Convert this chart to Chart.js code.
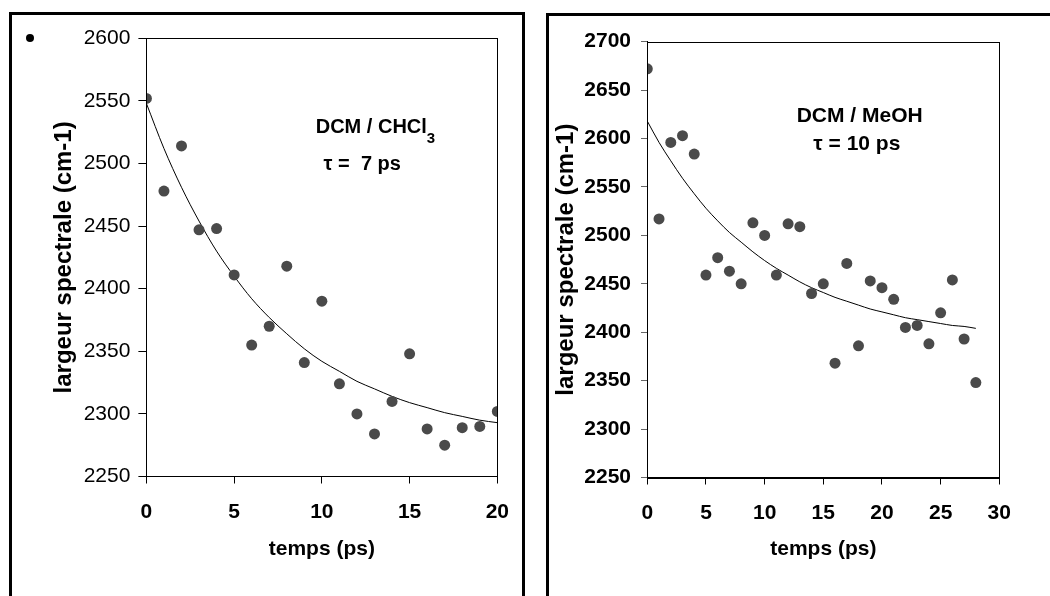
<!DOCTYPE html>
<html>
<head>
<meta charset="utf-8">
<script src="https://cdn.jsdelivr.net/npm/chart.js@4.4.1/dist/chart.umd.min.js"></script>
<style>
  body { margin: 0; width: 1050px; height: 596px; background: #fff; overflow: hidden; position: relative; }
  canvas { position: absolute; top: 0; }
  .frame { position: absolute; box-sizing: border-box; border: 3px solid #000; }
  .dot { position: absolute; width: 8px; height: 8px; border-radius: 50%; background: #000; }
</style>
</head>
<body>
<div class="frame" style="left:9px;top:12px;width:516px;height:620px;"></div>
<div class="frame" style="left:546px;top:13px;width:560px;height:620px;"></div>
<div class="dot" style="left:26px;top:34px;"></div>
<canvas id="leftChart" width="525" height="596" style="left:0"></canvas>
<canvas id="rightChart" width="520" height="596" style="left:530px"></canvas>
<script>
// DCM / CHCl3 : measured points and fitted curve (tau = 7 ps)
var leftTimes = [0, 1, 2, 3, 4, 5, 6, 7, 8, 9, 10, 11, 12, 13, 14, 15, 16, 17, 18, 19, 20];
var leftWidths = [2552, 2478, 2514, 2447, 2448, 2411, 2355, 2370, 2418, 2341, 2390,
                  2324, 2300, 2284, 2310, 2348, 2288, 2275, 2289, 2290, 2302];
var leftFit = [2548, 2512, 2481, 2454, 2430, 2410, 2392, 2377, 2364, 2352, 2342,
               2334, 2326, 2320, 2314, 2309, 2305, 2301, 2298, 2295, 2293];

// DCM / MeOH : measured points and fitted curve (tau = 10 ps)
var rightTimes = [0, 1, 2, 3, 4, 5, 6, 7, 8, 9, 10, 11, 12, 13, 14, 15, 16, 17, 18, 19,
                  20, 21, 22, 23, 24, 25, 26, 27, 28];
var rightWidths = [2672, 2517, 2596, 2603, 2584, 2459, 2477, 2463, 2450, 2513, 2500,
                   2459, 2512, 2509, 2440, 2450, 2368, 2471, 2386, 2453, 2446, 2434,
                   2405, 2407, 2388, 2420, 2454, 2393, 2348];
var rightFit = [2618, 2596, 2577, 2559, 2543, 2528, 2515, 2503, 2493, 2483, 2474,
                2466, 2459, 2452, 2446, 2441, 2436, 2432, 2428, 2424, 2421, 2418,
                2415, 2413, 2411, 2409, 2407, 2406, 2404];

var xTitle = 'temps (ps)';
var yTitle = 'largeur spectrale (cm-1)';

function pairs(xs, ys) {
  return xs.map(function (x, i) { return { x: x, y: ys[i] }; });
}

// frame around the plot area + the two text lines inside it
var plotBox = {
  id: 'plotBox',
  afterDraw: function (chart, args, opts) {
    var a = chart.chartArea, ctx = chart.ctx;
    var sx = chart.scales.x, sy = chart.scales.y;
    ctx.save();
    ctx.strokeStyle = '#000';
    ctx.lineWidth = 1;
    ctx.strokeRect(Math.round(a.left) + 0.5, Math.round(a.top) + 0.5,
                   Math.round(a.right - a.left), Math.round(a.bottom - a.top));
    ctx.fillStyle = '#000';
    ctx.textBaseline = 'alphabetic';
    ctx.textAlign = 'left';
    opts.lines.forEach(function (l) {
      var x = sx.getPixelForValue(l.x), y = sy.getPixelForValue(l.y);
      ctx.font = 'bold ' + opts.size + 'px "Liberation Sans", Arial, sans-serif';
      ctx.fillText(l.text, x, y);
      if (l.sub) {
        var w = ctx.measureText(l.text).width;
        ctx.font = 'bold ' + opts.subSize + 'px "Liberation Sans", Arial, sans-serif';
        ctx.fillText(l.sub, x + w, y + 10);
      }
    });
    ctx.restore();
  }
};

function plain(v) { return String(v); }

function makeChart(id, cfg) {
  var font = '"Liberation Sans", Arial, sans-serif';
  return new Chart(document.getElementById(id), {
    type: 'scatter',
    data: {
      datasets: [{
        type: 'scatter',
        data: pairs(cfg.times, cfg.widths),
        backgroundColor: '#4a4a4a',
        borderWidth: 0,
        pointRadius: 5.5,
        pointHoverRadius: 5.5
      }, {
        type: 'line',
        data: pairs(cfg.times, cfg.fit),
        borderColor: '#000',
        borderWidth: 1,
        pointRadius: 0,
        fill: false,
        cubicInterpolationMode: 'monotone'
      }]
    },
    options: {
      responsive: false,
      animation: false,
      events: [],
      layout: { padding: { top: cfg.top, right: cfg.right, left: 0, bottom: 0 } },
      plugins: {
        legend: { display: false },
        tooltip: { enabled: false },
        plotBox: { lines: cfg.lines, size: cfg.noteSize, subSize: 15 }
      },
      scales: {
        x: {
          type: 'linear',
          min: 0, max: cfg.xMax,
          afterFit: function (s) { s.height = 596 - cfg.bottom; },
          ticks: { stepSize: 5, color: '#000', padding: 16, callback: plain,
                   font: { family: font, size: 21, weight: 'bold' } },
          grid: { display: true, drawOnChartArea: false, drawTicks: true,
                  tickLength: 7, color: '#000' },
          border: { display: true, color: '#000', width: 1 },
          title: { display: true, text: xTitle, color: '#000',
                   padding: { top: 0, bottom: 34 },
                   font: { family: font, size: 21, weight: 'bold' } }
        },
        y: {
          min: cfg.yMin, max: cfg.yMax,
          afterFit: function (s) { s.width = cfg.left; },
          ticks: { stepSize: 50, color: '#000', padding: cfg.yPad, callback: plain,
                   font: { family: font, size: 21, weight: cfg.yWeight } },
          grid: { display: true, drawOnChartArea: false, drawTicks: true,
                  tickLength: cfg.yTick, color: cfg.yTickColor },
          border: { display: true, color: '#000', width: 1 },
          title: { display: true, text: yTitle, color: '#000',
                   padding: { top: cfg.yTitlePad, bottom: 0 },
                   font: { family: font, size: 24, weight: 'bold' } }
        }
      }
    },
    plugins: [plotBox]
  });
}

makeChart('leftChart', {
  times: leftTimes, widths: leftWidths, fit: leftFit,
  xMax: 20, yMin: 2250, yMax: 2600,
  top: 38.3, right: 25.7, left: 146.4, bottom: 476.5,
  yPad: 8, yTick: 8, yTickColor: '#000', yWeight: 'normal', yTitlePad: 50,
  noteSize: 20,
  lines: [
    { text: 'DCM / CHCl', sub: '3', x: 9.65, y: 2524 },
    { text: '\u03c4 =  7 ps', x: 10.1, y: 2495 }
  ]
});

makeChart('rightChart', {
  times: rightTimes, widths: rightWidths, fit: rightFit,
  xMax: 30, yMin: 2250, yMax: 2700,
  top: 41.7, right: 50.7, left: 117.3, bottom: 477.5,
  yPad: 10, yTick: 6.3, yTickColor: '#666', yWeight: 'bold', yTitlePad: 22,
  noteSize: 21,
  lines: [
    { text: 'DCM / MeOH', x: 12.73, y: 2617 },
    { text: '\u03c4 = 10 ps', x: 14.15, y: 2588 }
  ]
});
</script>
</body>
</html>
